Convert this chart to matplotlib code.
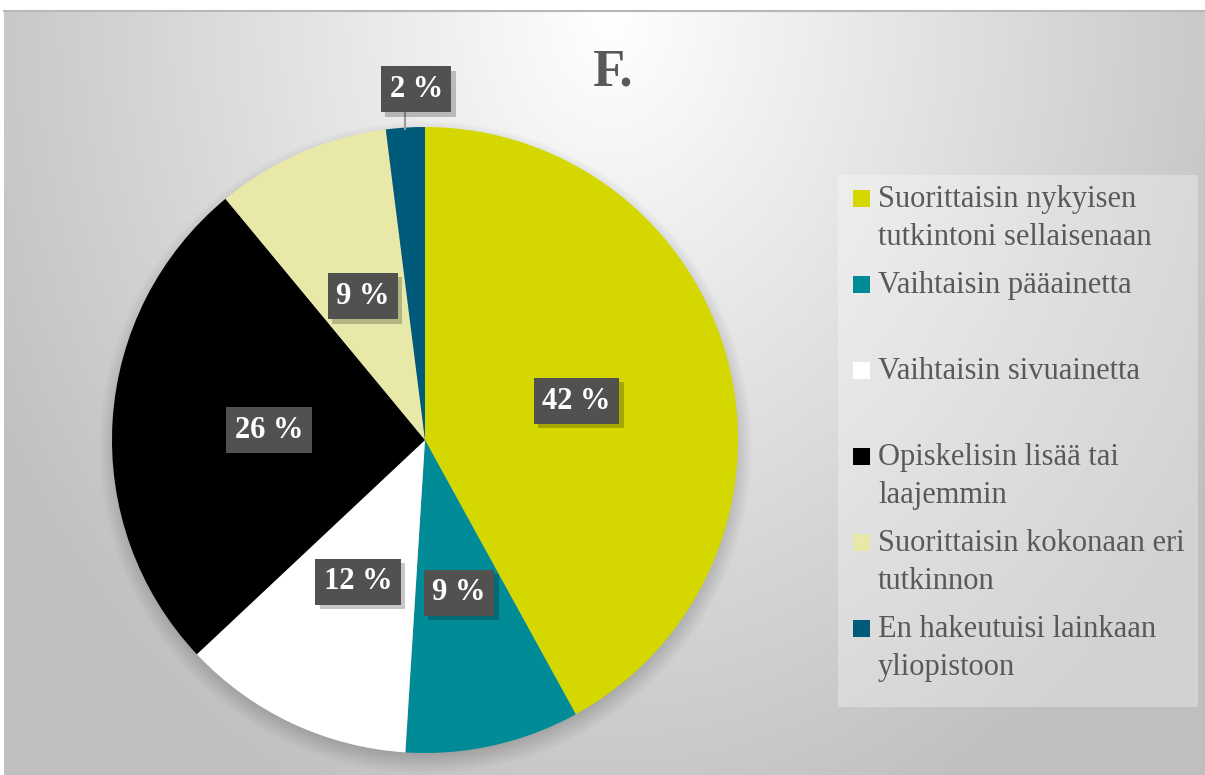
import numpy as np
import matplotlib
matplotlib.use("Agg")
import matplotlib.pyplot as plt
import matplotlib.patheffects as pe
from matplotlib.patches import Rectangle

# data
categories = [
    "Suorittaisin nykyisen\ntutkintoni sellaisenaan",
    "Vaihtaisin pääainetta",
    "Vaihtaisin sivuainetta",
    "Opiskelisin lisää tai\nlaajemmin",
    "Suorittaisin kokonaan eri\ntutkinnon",
    "En hakeutuisi lainkaan\nyliopistoon",
]
shares = [42, 9, 12, 26, 9, 2]
colors = ["#d4d800", "#008b96", "#ffffff", "#000000", "#e8e8a8", "#005a7a"]
title = "F."

W, H = 1205, 775
serif = ["Liberation Serif", "DejaVu Serif"]
text_gray = "#595959"

fig = plt.figure(figsize=(W / 100, H / 100), dpi=100)
fig.patch.set_facecolor("white")

# background with radial gradient and pie shadow
bg = fig.add_axes([0, 0, 1, 1])
bg.set_xlim(0, W)
bg.set_ylim(H, 0)
bg.axis("off")

cx, cy, r = 425, 440, 313
yy, xx = np.mgrid[10:H, 4:W]
d = np.sqrt(((xx - 610) / 610.0) ** 2 + ((yy - 20) / 760.0) ** 2)
val = 255 - 55 * np.clip(d, 0, 1.15)
dist_c = np.sqrt((xx - cx) ** 2 + (yy - cy - 7) ** 2)
shadow = np.clip((r + 14 - dist_c) / 28.0, 0, 1)
val = val * (1 - 0.25 * shadow)
img = np.dstack([val, val, val]) / 255.0
bg.imshow(img, extent=(4, W, H, 10), origin="upper", interpolation="bilinear", aspect="auto")
bg.plot([4, W], [11, 11], color="#b8b8b8", lw=1.5)

# title
bg.text(612, 85, title, fontsize=38, fontweight="bold", color=text_gray,
        family=serif, ha="center", va="baseline")

# legend
bg.add_patch(Rectangle((838, 175), 360, 532, facecolor="white", alpha=0.3, lw=0))
y0, step, line_h = 207, 86.0, 37.6
for i, (lab, col) in enumerate(zip(categories, colors)):
    yb = y0 + i * step
    bg.add_patch(Rectangle((853, yb - 17), 17, 17, facecolor=col, lw=0))
    for k, line in enumerate(lab.split("\n")):
        bg.text(878, yb + k * line_h, line, fontsize=22, color=text_gray, family=serif,
                ha="left", va="baseline")

# pie
ax = fig.add_axes([(cx - r) / W, (H - cy - r) / H, 2 * r / W, 2 * r / H])
wedges, _ = ax.pie(shares, colors=colors, startangle=90, counterclock=False,
                   radius=1, wedgeprops=dict(linewidth=0))
ax.set_xlim(-1, 1)
ax.set_ylim(-1, 1)
ax.axis("off")

box = dict(boxstyle="square,pad=0.28", facecolor="#51514f", linewidth=0)
for w, v in zip(wedges, shares):
    mid = np.deg2rad((w.theta1 + w.theta2) / 2)
    if v < 5:
        ex, ey = np.cos(mid), np.sin(mid)
        lx, ly = ex + 0.035, 1.12
        ax.plot([ex, ex], [0.995, 1.045], color="#9a9a9a", lw=1.5, clip_on=False)
    else:
        lx, ly = 0.5 * np.cos(mid), 0.5 * np.sin(mid)
    t = ax.text(lx, ly, f"{v} %", fontsize=22, fontweight="bold", family=serif,
                color="white", ha="center", va="center", bbox=box)
    t.get_bbox_patch().set_path_effects(
        [pe.SimplePatchShadow(offset=(3, -3), shadow_rgbFace="black", alpha=0.22), pe.Normal()])

fig.savefig("out.png", dpi=100)
